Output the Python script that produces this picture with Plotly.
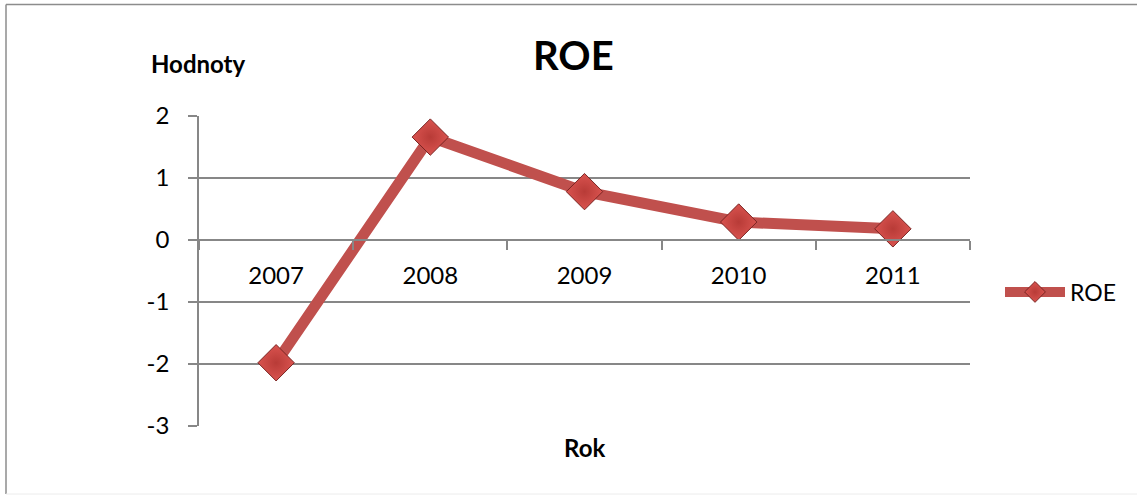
import plotly.graph_objects as go

years = ["2007", "2008", "2009", "2010", "2011"]
roe = [-1.98, 1.66, 0.78, 0.29, 0.18]
y_ticks = [2, 1, 0, -1, -2, -3]
y_tick_labels = ["2", "1", "0", "-1", "-2", "-3"]

W, H = 1137, 495
L, R, T, B = 199, 970, 116, 426  # plot area in pixels


def px(x):
    return (x - L) / (R - L)


def py(y):
    return (B - y) / (B - T)


FONT = "Lato, 'Open Sans', sans-serif"
GRID = "#878787"
RED = "#C0504D"

fig = go.Figure()
fig.add_trace(go.Scatter(
    x=years, y=roe, mode="lines+markers", name="ROE",
    line=dict(color=RED, width=11),
    marker=dict(symbol="diamond", size=28, color="#d9534f",
                gradient=dict(type="radial", color="#b83b37"),
                line=dict(color="#7a2422", width=1)),
))

fig.update_layout(
    width=W, height=H,
    margin=dict(l=L, r=W - R, t=T, b=H - B, pad=0),
    paper_bgcolor="white", plot_bgcolor="white",
    font=dict(family=FONT, size=23, color="black"),
    showlegend=True,
    legend=dict(x=px(1000), y=py(292), xanchor="left", yanchor="middle",
                font=dict(size=23), itemwidth=60, bgcolor="rgba(0,0,0,0)"),
    xaxis=dict(type="category", range=[-0.5, 4.5], anchor="free",
               position=py(240), showgrid=False, showline=True,
               linecolor=GRID, linewidth=1.5, ticks="outside", ticklen=9,
               tickcolor=GRID, tickwidth=1.5, tickson="boundaries",
               ticklabelstandoff=14, zeroline=False,
               tickfont=dict(size=24)),
    yaxis=dict(range=[-3, 2], tickvals=y_ticks, ticktext=y_tick_labels,
               showgrid=True,
               gridcolor=GRID, gridwidth=1.5, showline=True,
               linecolor=GRID, linewidth=1.5, ticks="outside", ticklen=9,
               tickcolor=GRID, tickwidth=1.5, zeroline=False,
               ticklabelstandoff=14, tickfont=dict(size=24)),
    annotations=[
        dict(text="<b>ROE</b>", x=px(573), y=py(55), xref="paper", yref="paper",
             showarrow=False, font=dict(size=40), xanchor="center", yanchor="middle"),
        dict(text="<b>Hodnoty</b>", x=px(198), y=py(63), xref="paper", yref="paper",
             showarrow=False, font=dict(size=24), xanchor="center", yanchor="middle"),
        dict(text="<b>Rok</b>", x=px(584), y=py(447), xref="paper", yref="paper",
             showarrow=False, font=dict(size=24), xanchor="center", yanchor="middle"),
    ],
    shapes=[
        dict(type="line", xref="paper", yref="paper", x0=px(6), x1=px(1137),
             y0=py(4.5), y1=py(4.5), line=dict(color="#8c8c8c", width=1.5)),
        dict(type="line", xref="paper", yref="paper", x0=px(6), x1=px(6),
             y0=py(4.5), y1=py(494), line=dict(color="#8c8c8c", width=1.5)),
        dict(type="line", xref="paper", yref="paper", x0=px(6), x1=px(1137),
             y0=py(494), y1=py(494), line=dict(color="#ececec", width=1)),
    ],
)

fig.write_html("out.html")
